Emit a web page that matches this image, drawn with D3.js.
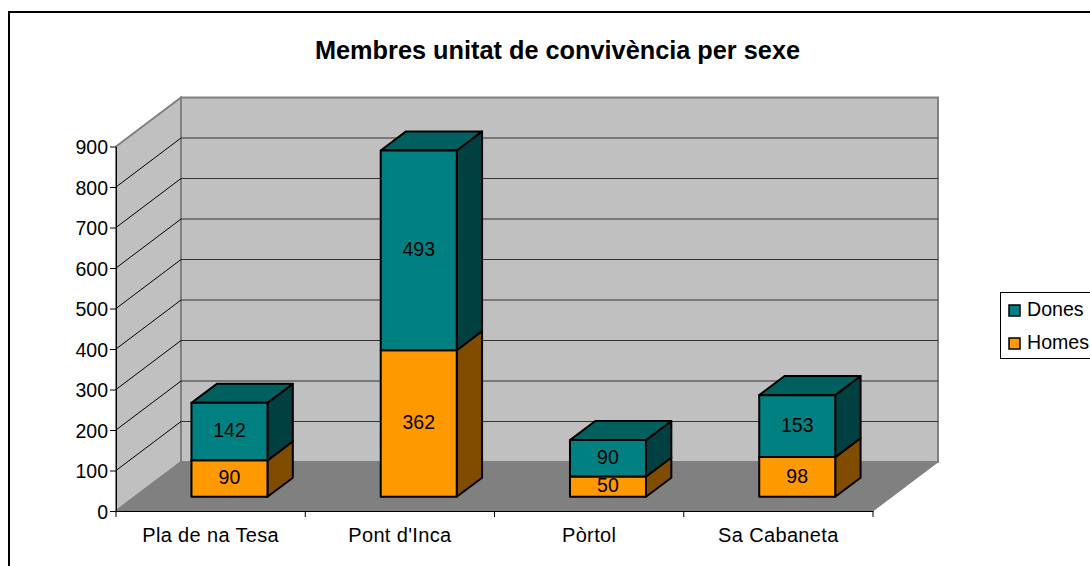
<!DOCTYPE html>
<html>
<head>
<meta charset="utf-8">
<script src="https://cdn.jsdelivr.net/npm/d3@7"></script>
<style>
    html, body { margin: 0; padding: 0; background: #fff; overflow: hidden; }
    svg { display: block; }
    text { font-family: "Liberation Sans", Arial, sans-serif; fill: #000; }
</style>
</head>
<body>
<script>
var categories = ["Pla de na Tesa", "Pont d'Inca", "Pòrtol", "Sa Cabaneta"];
var homes = [90, 362, 50, 98];
var dones = [142, 493, 90, 153];
var seriesNames = ["Homes", "Dones"];
var yTicks = [0, 100, 200, 300, 400, 500, 600, 700, 800, 900];

var width = 1090;
var height = 566;
var svg = d3.select("body")
    .append("svg")
    .attr("width", width)
    .attr("height", height);

// chart frame runs off the right and bottom of the picture
svg.append("rect")
    .attr("x", 9).attr("y", 12)
    .attr("width", 1200).attr("height", 700)
    .attr("fill", "#fff")
    .attr("stroke", "#000")
    .attr("stroke-width", 2);

svg.append("text")
    .attr("x", 557.5).attr("y", 59)
    .attr("text-anchor", "middle")
    .style("font-size", "25.3px")
    .style("font-weight", "bold")
    .text("Membres unitat de convivència per sexe");

var x = d3.scaleBand().domain(categories).range([116, 873]);
var y = d3.scaleLinear().domain([0, 900]).range([511, 146.5]);

// oblique projection: depth 0 is the front of the floor, depth 1 the back wall
var depthX = 65;
var depthY = -49;
function project(px, py, z) {
    return [px + depthX * z, py + depthY * z];
}
function poly(points) {
    return points.map(function (p) { return p.join(","); }).join(" ");
}

var x0 = x.range()[0], x1 = x.range()[1];
var top0 = y(900), base = y(0);

// walls and floor
var walls = svg.append("g");
walls.append("polygon")
    .attr("points", poly([project(x0, top0, 1), project(x1, top0, 1), project(x1, base, 1), project(x0, base, 1)]))
    .attr("fill", "#c0c0c0").attr("stroke", "#808080").attr("stroke-width", 2);
walls.append("polygon")
    .attr("points", poly([project(x0, top0, 0), project(x0, top0, 1), project(x0, base, 1), project(x0, base, 0)]))
    .attr("fill", "#c0c0c0").attr("stroke", "#808080").attr("stroke-width", 2);
walls.append("polygon")
    .attr("points", poly([project(x0, base, 0), project(x1, base, 0), project(x1, base, 1), project(x0, base, 1)]))
    .attr("fill", "#808080").attr("stroke", "#808080").attr("stroke-width", 1);

// gridlines on side wall and back wall
yTicks.slice(1, -1).forEach(function (t) {
    var a = project(x0, y(t), 0), b = project(x0, y(t), 1), c = project(x1, y(t), 1);
    walls.append("line")
        .attr("x1", a[0]).attr("y1", a[1]).attr("x2", b[0]).attr("y2", b[1])
        .attr("stroke", "#000").attr("stroke-width", 1);
    walls.append("line")
        .attr("x1", b[0]).attr("y1", b[1]).attr("x2", c[0]).attr("y2", c[1])
        .attr("stroke", "#333").attr("stroke-width", 1);
});

// axes
var yAxis = svg.append("g")
    .attr("transform", "translate(" + x0 + ",0)")
    .call(d3.axisLeft(y).tickValues(yTicks).tickSize(6).tickPadding(2).tickSizeOuter(0));
var xAxis = svg.append("g")
    .attr("transform", "translate(0," + base + ")")
    .call(d3.axisBottom(x).tickSize(0).tickPadding(17));
[yAxis, xAxis].forEach(function (g) {
    g.selectAll("line").attr("stroke", "#000");
    g.select(".domain").attr("stroke", "#000");
});
yAxis.selectAll(".tick text")
    .style("font-size", "19.5px")
    .attr("fill", "#000")
    .attr("dy", "0.36em");
xAxis.selectAll(".tick text")
    .style("font-size", "20px")
    .style("letter-spacing", "0.35px")
    .attr("fill", "#000")
    .attr("dy", "0.71em");
xAxis.selectAll(".bound")
    .data(d3.range(categories.length + 1))
    .enter().append("line")
    .attr("class", "bound")
    .attr("x1", function (d) { return x0 + d * x.step(); })
    .attr("x2", function (d) { return x0 + d * x.step(); })
    .attr("y1", 0).attr("y2", 6)
    .attr("stroke", "#000");

// stacked 3d bars
var rows = categories.map(function (c, i) {
    return { category: c, Homes: homes[i], Dones: dones[i] };
});
var stacked = d3.stack().keys(seriesNames)(rows);
var colors = {
    Homes: { front: "#ff9900", top: "#b36b00", side: "#7f4c00" },
    Dones: { front: "#008080", top: "#005f5f", side: "#004040" }
};

var zFront = 0.29;
var zBack = 0.68;
var barWidth = 76;

stacked.forEach(function (s) {
    var c = colors[s.key];
    var g = svg.append("g").attr("class", "series-" + s.key);
    s.forEach(function (d, i) {
        var bx0 = x(categories[i]) + (x.bandwidth() - barWidth) / 2;
        var bx1 = bx0 + barWidth;
        var yLow = y(d[0]), yHigh = y(d[1]);
        var bar = g.append("g")
            .attr("stroke", "#000")
            .attr("stroke-width", 2)
            .attr("stroke-linejoin", "round");
        bar.append("polygon")
            .attr("points", poly([project(bx1, yLow, zFront), project(bx1, yLow, zBack), project(bx1, yHigh, zBack), project(bx1, yHigh, zFront)]))
            .attr("fill", c.side);
        bar.append("polygon")
            .attr("points", poly([project(bx0, yHigh, zFront), project(bx1, yHigh, zFront), project(bx1, yHigh, zBack), project(bx0, yHigh, zBack)]))
            .attr("fill", c.top);
        bar.append("polygon")
            .attr("points", poly([project(bx0, yLow, zFront), project(bx1, yLow, zFront), project(bx1, yHigh, zFront), project(bx0, yHigh, zFront)]))
            .attr("fill", c.front);
        var mid = project((bx0 + bx1) / 2, (yLow + yHigh) / 2, zFront);
        g.append("text")
            .attr("x", mid[0])
            .attr("y", mid[1] - 1)
            .attr("dy", "0.35em")
            .attr("text-anchor", "middle")
            .style("font-size", "19.5px")
            .text(d.data[s.key]);
    });
});

// legend, cut off by the right edge as in the picture
var legend = svg.append("g");
legend.append("rect")
    .attr("x", 1000.5).attr("y", 292.5)
    .attr("width", 200).attr("height", 66)
    .attr("fill", "#fff")
    .attr("stroke", "#000")
    .attr("stroke-width", 1);
seriesNames.slice().reverse().forEach(function (name, i) {
    var ly = 310 + i * 33;
    legend.append("rect")
        .attr("x", 1009).attr("y", ly - 5)
        .attr("width", 11).attr("height", 11)
        .attr("fill", colors[name].front)
        .attr("stroke", "#000")
        .attr("stroke-width", 1.5);
    legend.append("text")
        .attr("x", 1027).attr("y", ly)
        .attr("dy", "0.3em")
        .style("font-size", "19.6px")
        .text(name);
});
</script>
</body>
</html>
